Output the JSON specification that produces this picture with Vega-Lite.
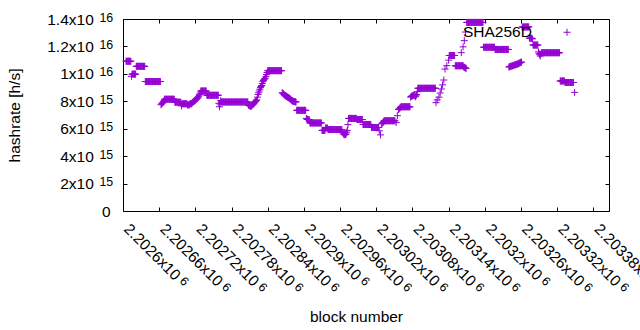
{
"$schema": "https://vega.github.io/schema/vega-lite/v6.json",
"width": 486, "height": 192,
"autosize": "none",
"padding": {"left": 123, "top": 19, "right": 31, "bottom": 119},
"background": "white",
"config": {"view": {"stroke": null}, "font": "Liberation Sans",
  "axis": {"labelFont": "Liberation Sans", "titleFont": "Liberation Sans", "labelColor": "black", "titleColor": "black", "tickColor": "black", "domainColor": "black", "grid": false, "labelOverlap": false, "labelFlush": false, "labelBound": false, "titleFontWeight": "normal", "zindex": 1}},
"data": {"values": [
{"b":2202605,"h":10.92e15},{"b":2202606,"h":10.92e15},{"b":2202607,"h":10.92e15},{"b":2202608,"h":10.92e15},{"b":2202609,"h":10.92e15},{"b":2202610,"h":10.92e15},{"b":2202611,"h":10.92e15},{"b":2202612,"h":10.92e15},{"b":2202613,"h":10.92e15},
{"b":2202614,"h":9.82e15},{"b":2202615,"h":9.98e15},{"b":2202616,"h":9.98e15},{"b":2202617,"h":9.98e15},{"b":2202618,"h":9.98e15},{"b":2202619,"h":9.98e15},{"b":2202620,"h":9.98e15},{"b":2202621,"h":9.98e15},
{"b":2202622,"h":10.55e15},{"b":2202623,"h":10.55e15},{"b":2202624,"h":10.55e15},{"b":2202625,"h":10.55e15},{"b":2202626,"h":10.55e15},{"b":2202627,"h":10.55e15},{"b":2202628,"h":10.55e15},{"b":2202629,"h":10.55e15},{"b":2202630,"h":10.55e15},{"b":2202631,"h":10.55e15},{"b":2202632,"h":10.55e15},{"b":2202633,"h":10.55e15},{"b":2202634,"h":10.55e15},{"b":2202635,"h":10.55e15},{"b":2202636,"h":10.55e15},
{"b":2202637,"h":9.44e15},{"b":2202638,"h":9.44e15},{"b":2202639,"h":9.44e15},{"b":2202640,"h":9.44e15},{"b":2202641,"h":9.44e15},{"b":2202642,"h":9.44e15},{"b":2202643,"h":9.44e15},{"b":2202644,"h":9.44e15},{"b":2202645,"h":9.44e15},{"b":2202646,"h":9.44e15},{"b":2202647,"h":9.44e15},{"b":2202648,"h":9.44e15},{"b":2202649,"h":9.44e15},{"b":2202650,"h":9.44e15},{"b":2202651,"h":9.44e15},{"b":2202652,"h":9.44e15},{"b":2202653,"h":9.44e15},{"b":2202654,"h":9.44e15},{"b":2202655,"h":9.44e15},{"b":2202656,"h":9.44e15},{"b":2202657,"h":9.44e15},{"b":2202658,"h":9.44e15},{"b":2202659,"h":9.44e15},{"b":2202660,"h":9.44e15},{"b":2202661,"h":9.44e15},{"b":2202662,"h":9.44e15},
{"b":2202663,"h":7.75e15},{"b":2202664,"h":7.8e15},{"b":2202665,"h":7.85e15},{"b":2202666,"h":7.9e15},{"b":2202667,"h":7.95e15},{"b":2202668,"h":8.05e15},
{"b":2202669,"h":8.15e15},{"b":2202670,"h":8.15e15},{"b":2202671,"h":8.15e15},{"b":2202672,"h":8.15e15},{"b":2202673,"h":8.15e15},{"b":2202674,"h":8.15e15},{"b":2202675,"h":8.15e15},{"b":2202676,"h":8.15e15},{"b":2202677,"h":8.15e15},{"b":2202678,"h":8.15e15},{"b":2202679,"h":8.15e15},{"b":2202680,"h":8.15e15},{"b":2202681,"h":8.15e15},{"b":2202682,"h":8.15e15},{"b":2202683,"h":8.15e15},{"b":2202684,"h":8.15e15},{"b":2202685,"h":8.15e15},
{"b":2202686,"h":7.93e15},{"b":2202687,"h":7.93e15},{"b":2202688,"h":7.93e15},{"b":2202689,"h":7.93e15},{"b":2202690,"h":7.93e15},{"b":2202691,"h":7.93e15},{"b":2202692,"h":7.93e15},{"b":2202693,"h":7.93e15},{"b":2202694,"h":7.93e15},{"b":2202695,"h":7.93e15},{"b":2202696,"h":7.93e15},
{"b":2202697,"h":7.66e15},{"b":2202698,"h":7.82e15},{"b":2202699,"h":7.82e15},{"b":2202700,"h":7.82e15},{"b":2202701,"h":7.82e15},{"b":2202702,"h":7.82e15},{"b":2202703,"h":7.82e15},{"b":2202704,"h":7.82e15},{"b":2202705,"h":7.82e15},{"b":2202706,"h":7.82e15},{"b":2202707,"h":7.74e15},{"b":2202708,"h":7.74e15},{"b":2202709,"h":7.74e15},{"b":2202710,"h":7.74e15},{"b":2202711,"h":7.82e15},{"b":2202712,"h":7.82e15},{"b":2202713,"h":7.82e15},{"b":2202714,"h":7.82e15},
{"b":2202715,"h":7.9e15},{"b":2202716,"h":7.94e15},{"b":2202717,"h":7.98e15},{"b":2202718,"h":8.02e15},{"b":2202719,"h":8.05e15},{"b":2202720,"h":8.08e15},{"b":2202721,"h":8.12e15},{"b":2202722,"h":8.16e15},{"b":2202723,"h":8.2e15},{"b":2202724,"h":8.26e15},{"b":2202725,"h":8.33e15},{"b":2202726,"h":8.4e15},{"b":2202727,"h":8.5e15},{"b":2202728,"h":8.6e15},
{"b":2202729,"h":8.75e15},{"b":2202730,"h":8.75e15},{"b":2202731,"h":8.75e15},{"b":2202732,"h":8.75e15},{"b":2202733,"h":8.75e15},{"b":2202734,"h":8.75e15},{"b":2202735,"h":8.75e15},{"b":2202736,"h":8.75e15},{"b":2202737,"h":8.75e15},{"b":2202738,"h":8.75e15},
{"b":2202739,"h":8.44e15},{"b":2202740,"h":8.44e15},{"b":2202741,"h":8.44e15},{"b":2202742,"h":8.44e15},{"b":2202743,"h":8.44e15},{"b":2202744,"h":8.44e15},{"b":2202745,"h":8.44e15},{"b":2202746,"h":8.44e15},{"b":2202747,"h":8.44e15},{"b":2202748,"h":8.44e15},{"b":2202749,"h":8.44e15},{"b":2202750,"h":8.44e15},{"b":2202751,"h":8.44e15},{"b":2202752,"h":8.44e15},{"b":2202753,"h":8.44e15},{"b":2202754,"h":8.44e15},{"b":2202755,"h":8.44e15},{"b":2202756,"h":8.44e15},{"b":2202757,"h":8.44e15},{"b":2202758,"h":8.44e15},
{"b":2202759,"h":7.85e15},{"b":2202760,"h":7.6e15},{"b":2202761,"h":7.8e15},{"b":2202762,"h":8.05e15},
{"b":2202763,"h":7.95e15},{"b":2202764,"h":7.95e15},{"b":2202765,"h":7.95e15},{"b":2202766,"h":7.95e15},{"b":2202767,"h":7.95e15},{"b":2202768,"h":7.95e15},{"b":2202769,"h":7.95e15},{"b":2202770,"h":7.95e15},{"b":2202771,"h":7.95e15},{"b":2202772,"h":7.95e15},{"b":2202773,"h":7.95e15},{"b":2202774,"h":7.95e15},{"b":2202775,"h":7.95e15},{"b":2202776,"h":7.95e15},{"b":2202777,"h":7.95e15},{"b":2202778,"h":7.95e15},{"b":2202779,"h":7.95e15},{"b":2202780,"h":7.95e15},{"b":2202781,"h":7.95e15},{"b":2202782,"h":7.95e15},{"b":2202783,"h":7.95e15},{"b":2202784,"h":7.95e15},{"b":2202785,"h":7.95e15},{"b":2202786,"h":7.95e15},{"b":2202787,"h":7.95e15},{"b":2202788,"h":7.95e15},{"b":2202789,"h":7.95e15},{"b":2202790,"h":7.95e15},{"b":2202791,"h":7.95e15},{"b":2202792,"h":7.95e15},{"b":2202793,"h":7.95e15},{"b":2202794,"h":7.95e15},{"b":2202795,"h":7.95e15},{"b":2202796,"h":7.95e15},{"b":2202797,"h":7.95e15},{"b":2202798,"h":7.95e15},{"b":2202799,"h":7.95e15},{"b":2202800,"h":7.95e15},{"b":2202801,"h":7.95e15},{"b":2202802,"h":7.95e15},{"b":2202803,"h":7.95e15},{"b":2202804,"h":7.95e15},{"b":2202805,"h":7.95e15},{"b":2202806,"h":7.95e15},{"b":2202807,"h":7.95e15},
{"b":2202808,"h":7.72e15},{"b":2202809,"h":7.7e15},{"b":2202810,"h":7.68e15},{"b":2202811,"h":7.65e15},{"b":2202812,"h":7.62e15},{"b":2202813,"h":7.66e15},{"b":2202814,"h":7.72e15},{"b":2202815,"h":7.75e15},{"b":2202816,"h":7.78e15},{"b":2202817,"h":7.85e15},
{"b":2202818,"h":7.92e15},{"b":2202819,"h":7.96e15},{"b":2202820,"h":8.0e15},{"b":2202821,"h":8.05e15},{"b":2202822,"h":8.1e15},{"b":2202823,"h":8.3e15},
{"b":2202824,"h":8.5e15},{"b":2202825,"h":8.62e15},{"b":2202826,"h":8.75e15},{"b":2202827,"h":8.88e15},{"b":2202828,"h":9.0e15},{"b":2202829,"h":9.08e15},{"b":2202830,"h":9.15e15},{"b":2202831,"h":9.3e15},{"b":2202832,"h":9.45e15},{"b":2202833,"h":9.52e15},{"b":2202834,"h":9.6e15},{"b":2202835,"h":9.64e15},{"b":2202836,"h":9.68e15},{"b":2202837,"h":9.8e15},{"b":2202838,"h":9.95e15},{"b":2202839,"h":10.1e15},
{"b":2202840,"h":10.23e15},{"b":2202841,"h":10.23e15},{"b":2202842,"h":10.23e15},{"b":2202843,"h":10.23e15},{"b":2202844,"h":10.23e15},{"b":2202845,"h":10.23e15},{"b":2202846,"h":10.23e15},{"b":2202847,"h":10.23e15},{"b":2202848,"h":10.23e15},{"b":2202849,"h":10.23e15},{"b":2202850,"h":10.23e15},{"b":2202851,"h":10.23e15},{"b":2202852,"h":10.23e15},{"b":2202853,"h":10.23e15},{"b":2202854,"h":10.23e15},{"b":2202855,"h":10.23e15},{"b":2202856,"h":10.23e15},{"b":2202857,"h":10.23e15},{"b":2202858,"h":10.23e15},{"b":2202859,"h":10.23e15},{"b":2202860,"h":10.23e15},{"b":2202861,"h":10.23e15},{"b":2202862,"h":10.23e15},{"b":2202863,"h":10.23e15},
{"b":2202864,"h":8.62e15},{"b":2202865,"h":8.6e15},{"b":2202866,"h":8.55e15},{"b":2202867,"h":8.5e15},{"b":2202868,"h":8.45e15},{"b":2202869,"h":8.42e15},{"b":2202870,"h":8.38e15},{"b":2202871,"h":8.35e15},{"b":2202872,"h":8.33e15},{"b":2202873,"h":8.3e15},{"b":2202874,"h":8.28e15},{"b":2202875,"h":8.25e15},{"b":2202876,"h":8.22e15},{"b":2202877,"h":8.18e15},{"b":2202878,"h":8.15e15},{"b":2202879,"h":8.1e15},{"b":2202880,"h":8.05e15},{"b":2202881,"h":8.02e15},{"b":2202882,"h":8.0e15},{"b":2202883,"h":7.99e15},{"b":2202884,"h":7.98e15},{"b":2202885,"h":7.97e15},{"b":2202886,"h":7.96e15},{"b":2202887,"h":7.95e15},
{"b":2202888,"h":7.34e15},{"b":2202889,"h":7.34e15},{"b":2202890,"h":7.34e15},{"b":2202891,"h":7.34e15},{"b":2202892,"h":7.34e15},{"b":2202893,"h":7.34e15},{"b":2202894,"h":7.34e15},{"b":2202895,"h":7.34e15},{"b":2202896,"h":7.34e15},{"b":2202897,"h":7.34e15},{"b":2202898,"h":7.34e15},{"b":2202899,"h":7.34e15},{"b":2202900,"h":7.34e15},{"b":2202901,"h":7.34e15},{"b":2202902,"h":7.34e15},{"b":2202903,"h":7.34e15},
{"b":2202904,"h":6.75e15},{"b":2202905,"h":6.7e15},{"b":2202906,"h":6.68e15},{"b":2202907,"h":6.67e15},{"b":2202908,"h":6.66e15},{"b":2202909,"h":6.66e15},
{"b":2202910,"h":6.42e15},{"b":2202911,"h":6.42e15},{"b":2202912,"h":6.42e15},{"b":2202913,"h":6.42e15},{"b":2202914,"h":6.42e15},{"b":2202915,"h":6.42e15},{"b":2202916,"h":6.42e15},{"b":2202917,"h":6.42e15},{"b":2202918,"h":6.42e15},{"b":2202919,"h":6.42e15},{"b":2202920,"h":6.42e15},{"b":2202921,"h":6.42e15},{"b":2202922,"h":6.42e15},{"b":2202923,"h":6.42e15},{"b":2202924,"h":6.42e15},{"b":2202925,"h":6.42e15},{"b":2202926,"h":6.42e15},{"b":2202927,"h":6.42e15},{"b":2202928,"h":6.42e15},{"b":2202929,"h":6.42e15},
{"b":2202930,"h":5.88e15},{"b":2202931,"h":5.88e15},{"b":2202932,"h":5.88e15},{"b":2202933,"h":5.88e15},{"b":2202934,"h":5.88e15},{"b":2202935,"h":5.88e15},{"b":2202936,"h":6.05e15},{"b":2202937,"h":6.05e15},{"b":2202938,"h":6.05e15},{"b":2202939,"h":6.05e15},
{"b":2202940,"h":5.94e15},{"b":2202941,"h":5.94e15},{"b":2202942,"h":5.94e15},{"b":2202943,"h":5.94e15},{"b":2202944,"h":5.94e15},{"b":2202945,"h":5.94e15},{"b":2202946,"h":5.94e15},{"b":2202947,"h":5.94e15},{"b":2202948,"h":5.94e15},{"b":2202949,"h":5.94e15},{"b":2202950,"h":5.94e15},{"b":2202951,"h":5.94e15},{"b":2202952,"h":5.94e15},{"b":2202953,"h":5.94e15},{"b":2202954,"h":5.94e15},{"b":2202955,"h":5.94e15},{"b":2202956,"h":5.94e15},{"b":2202957,"h":5.94e15},{"b":2202958,"h":5.94e15},{"b":2202959,"h":5.94e15},{"b":2202960,"h":5.94e15},{"b":2202961,"h":5.94e15},{"b":2202962,"h":5.94e15},{"b":2202963,"h":5.94e15},
{"b":2202964,"h":5.75e15},{"b":2202965,"h":5.68e15},{"b":2202966,"h":5.6e15},{"b":2202967,"h":5.58e15},{"b":2202968,"h":5.55e15},{"b":2202969,"h":5.58e15},{"b":2202970,"h":5.62e15},{"b":2202971,"h":5.75e15},{"b":2202972,"h":5.88e15},{"b":2202973,"h":6.3e15},
{"b":2202974,"h":6.75e15},{"b":2202975,"h":6.75e15},{"b":2202976,"h":6.75e15},{"b":2202977,"h":6.75e15},{"b":2202978,"h":6.75e15},{"b":2202979,"h":6.75e15},{"b":2202980,"h":6.75e15},{"b":2202981,"h":6.75e15},{"b":2202982,"h":6.75e15},{"b":2202983,"h":6.75e15},{"b":2202984,"h":6.75e15},{"b":2202985,"h":6.75e15},{"b":2202986,"h":6.75e15},{"b":2202987,"h":6.75e15},
{"b":2202988,"h":6.67e15},{"b":2202989,"h":6.67e15},{"b":2202990,"h":6.67e15},{"b":2202991,"h":6.67e15},{"b":2202992,"h":6.67e15},{"b":2202993,"h":6.67e15},{"b":2202994,"h":6.67e15},{"b":2202995,"h":6.67e15},{"b":2202996,"h":6.67e15},{"b":2202997,"h":6.67e15},
{"b":2202998,"h":6.31e15},{"b":2202999,"h":6.31e15},{"b":2203000,"h":6.31e15},{"b":2203001,"h":6.31e15},{"b":2203002,"h":6.31e15},{"b":2203003,"h":6.31e15},{"b":2203004,"h":6.31e15},{"b":2203005,"h":6.31e15},{"b":2203006,"h":6.31e15},{"b":2203007,"h":6.31e15},{"b":2203008,"h":6.31e15},{"b":2203009,"h":6.31e15},{"b":2203010,"h":6.31e15},{"b":2203011,"h":6.31e15},
{"b":2203012,"h":6.09e15},{"b":2203013,"h":6.09e15},{"b":2203014,"h":6.09e15},{"b":2203015,"h":6.09e15},{"b":2203016,"h":6.09e15},{"b":2203017,"h":6.09e15},{"b":2203018,"h":6.09e15},{"b":2203019,"h":6.09e15},{"b":2203020,"h":6.09e15},{"b":2203021,"h":6.09e15},{"b":2203022,"h":6.09e15},{"b":2203023,"h":6.09e15},{"b":2203024,"h":6.09e15},
{"b":2203025,"h":5.85e15},{"b":2203027,"h":5.55e15},
{"b":2203029,"h":6.35e15},{"b":2203030,"h":6.4e15},{"b":2203031,"h":6.45e15},{"b":2203032,"h":6.5e15},
{"b":2203033,"h":6.58e15},{"b":2203034,"h":6.58e15},{"b":2203035,"h":6.58e15},{"b":2203036,"h":6.58e15},{"b":2203037,"h":6.58e15},{"b":2203038,"h":6.58e15},{"b":2203039,"h":6.58e15},{"b":2203040,"h":6.58e15},{"b":2203041,"h":6.58e15},{"b":2203042,"h":6.58e15},{"b":2203043,"h":6.58e15},{"b":2203044,"h":6.58e15},{"b":2203045,"h":6.58e15},{"b":2203046,"h":6.58e15},{"b":2203047,"h":6.58e15},{"b":2203048,"h":6.58e15},{"b":2203049,"h":6.58e15},{"b":2203050,"h":6.58e15},{"b":2203051,"h":6.58e15},
{"b":2203053,"h":6.45e15},{"b":2203055,"h":6.95e15},
{"b":2203057,"h":7.4e15},{"b":2203058,"h":7.45e15},{"b":2203059,"h":7.5e15},{"b":2203060,"h":7.55e15},
{"b":2203061,"h":7.6e15},{"b":2203062,"h":7.6e15},{"b":2203063,"h":7.6e15},{"b":2203064,"h":7.6e15},{"b":2203065,"h":7.6e15},{"b":2203066,"h":7.6e15},{"b":2203067,"h":7.6e15},{"b":2203068,"h":7.6e15},{"b":2203069,"h":7.6e15},{"b":2203070,"h":7.6e15},{"b":2203071,"h":7.6e15},{"b":2203072,"h":7.6e15},{"b":2203073,"h":7.6e15},{"b":2203074,"h":7.6e15},{"b":2203075,"h":7.6e15},{"b":2203076,"h":7.6e15},
{"b":2203077,"h":8.3e15},{"b":2203078,"h":8.35e15},{"b":2203079,"h":8.38e15},{"b":2203080,"h":8.4e15},{"b":2203081,"h":8.42e15},{"b":2203082,"h":8.44e15},{"b":2203083,"h":8.45e15},{"b":2203084,"h":8.4e15},{"b":2203085,"h":8.33e15},{"b":2203086,"h":8.4e15},{"b":2203087,"h":8.5e15},{"b":2203088,"h":8.7e15},
{"b":2203089,"h":8.95e15},{"b":2203090,"h":8.95e15},{"b":2203091,"h":8.95e15},{"b":2203092,"h":8.95e15},{"b":2203093,"h":8.95e15},{"b":2203094,"h":8.95e15},{"b":2203095,"h":8.95e15},{"b":2203096,"h":8.95e15},{"b":2203097,"h":8.95e15},{"b":2203098,"h":8.95e15},{"b":2203099,"h":8.95e15},{"b":2203100,"h":8.95e15},{"b":2203101,"h":8.95e15},{"b":2203102,"h":8.95e15},{"b":2203103,"h":8.95e15},{"b":2203104,"h":8.95e15},{"b":2203105,"h":8.95e15},{"b":2203106,"h":8.95e15},{"b":2203107,"h":8.95e15},{"b":2203108,"h":8.95e15},{"b":2203109,"h":8.95e15},{"b":2203110,"h":8.95e15},{"b":2203111,"h":8.95e15},{"b":2203112,"h":8.95e15},{"b":2203113,"h":8.95e15},{"b":2203114,"h":8.95e15},{"b":2203115,"h":8.95e15},{"b":2203116,"h":8.95e15},{"b":2203117,"h":8.95e15},{"b":2203118,"h":8.95e15},
{"b":2203119,"h":7.9e15},{"b":2203121,"h":8.1e15},{"b":2203124,"h":8.3e15},{"b":2203126,"h":8.6e15},{"b":2203128,"h":8.9e15},{"b":2203130,"h":9.2e15},{"b":2203132,"h":9.55e15},
{"b":2203134,"h":10.35e15},{"b":2203137,"h":10.6e15},{"b":2203140,"h":11.0e15},
{"b":2203141,"h":11.34e15},{"b":2203142,"h":11.34e15},{"b":2203143,"h":11.34e15},{"b":2203144,"h":11.34e15},{"b":2203145,"h":11.34e15},{"b":2203146,"h":11.34e15},{"b":2203147,"h":11.34e15},{"b":2203148,"h":11.34e15},{"b":2203149,"h":11.34e15},{"b":2203150,"h":11.34e15},
{"b":2203151,"h":10.59e15},{"b":2203152,"h":10.59e15},{"b":2203153,"h":10.59e15},{"b":2203154,"h":10.59e15},{"b":2203155,"h":10.59e15},{"b":2203156,"h":10.59e15},{"b":2203157,"h":10.59e15},{"b":2203158,"h":10.59e15},{"b":2203159,"h":10.59e15},{"b":2203160,"h":10.59e15},{"b":2203161,"h":10.59e15},{"b":2203162,"h":10.59e15},{"b":2203163,"h":10.59e15},{"b":2203164,"h":10.59e15},{"b":2203165,"h":10.5e15},{"b":2203166,"h":10.48e15},{"b":2203167,"h":10.45e15},{"b":2203168,"h":10.42e15},{"b":2203169,"h":10.4e15},
{"b":2203161,"h":11.55e15},{"b":2203164,"h":11.97e15},{"b":2203166,"h":12.42e15},{"b":2203168,"h":13.05e15},
{"b":2203170,"h":13.75e15},{"b":2203171,"h":13.75e15},{"b":2203172,"h":13.75e15},{"b":2203173,"h":13.75e15},{"b":2203174,"h":13.75e15},{"b":2203175,"h":13.75e15},{"b":2203176,"h":13.75e15},{"b":2203177,"h":13.75e15},{"b":2203178,"h":13.75e15},{"b":2203179,"h":13.75e15},{"b":2203180,"h":13.75e15},{"b":2203181,"h":13.75e15},{"b":2203182,"h":13.75e15},{"b":2203183,"h":13.75e15},{"b":2203184,"h":13.75e15},{"b":2203185,"h":13.75e15},{"b":2203186,"h":13.75e15},{"b":2203187,"h":13.75e15},{"b":2203188,"h":13.75e15},{"b":2203189,"h":13.75e15},{"b":2203190,"h":13.75e15},{"b":2203191,"h":13.75e15},{"b":2203192,"h":13.75e15},{"b":2203193,"h":13.75e15},{"b":2203194,"h":13.75e15},{"b":2203195,"h":13.75e15},{"b":2203196,"h":13.75e15},{"b":2203197,"h":13.75e15},
{"b":2203198,"h":11.94e15},{"b":2203199,"h":11.94e15},{"b":2203200,"h":11.94e15},{"b":2203201,"h":11.94e15},{"b":2203202,"h":11.94e15},{"b":2203203,"h":11.94e15},{"b":2203204,"h":11.94e15},{"b":2203205,"h":11.94e15},{"b":2203206,"h":11.94e15},{"b":2203207,"h":11.94e15},{"b":2203208,"h":11.94e15},{"b":2203209,"h":11.94e15},{"b":2203210,"h":11.94e15},{"b":2203211,"h":11.94e15},{"b":2203212,"h":11.94e15},{"b":2203213,"h":11.94e15},{"b":2203214,"h":11.94e15},{"b":2203215,"h":11.94e15},{"b":2203216,"h":11.94e15},
{"b":2203217,"h":11.78e15},{"b":2203218,"h":11.78e15},{"b":2203219,"h":11.78e15},{"b":2203220,"h":11.78e15},{"b":2203221,"h":11.78e15},{"b":2203222,"h":11.78e15},{"b":2203223,"h":11.78e15},{"b":2203224,"h":11.78e15},{"b":2203225,"h":11.78e15},{"b":2203226,"h":11.78e15},{"b":2203227,"h":11.78e15},{"b":2203228,"h":11.78e15},{"b":2203229,"h":11.78e15},{"b":2203230,"h":11.78e15},{"b":2203231,"h":11.78e15},{"b":2203232,"h":11.78e15},{"b":2203233,"h":11.78e15},{"b":2203234,"h":11.78e15},{"b":2203235,"h":11.78e15},{"b":2203236,"h":11.78e15},{"b":2203237,"h":11.78e15},{"b":2203238,"h":11.78e15},{"b":2203239,"h":11.78e15},
{"b":2203240,"h":10.5e15},{"b":2203241,"h":10.52e15},{"b":2203242,"h":10.53e15},{"b":2203243,"h":10.55e15},{"b":2203244,"h":10.56e15},{"b":2203245,"h":10.58e15},{"b":2203246,"h":10.59e15},{"b":2203247,"h":10.61e15},{"b":2203248,"h":10.62e15},{"b":2203249,"h":10.64e15},{"b":2203250,"h":10.65e15},{"b":2203251,"h":10.67e15},{"b":2203252,"h":10.68e15},{"b":2203253,"h":10.7e15},{"b":2203254,"h":10.71e15},{"b":2203255,"h":10.73e15},{"b":2203256,"h":10.75e15},{"b":2203257,"h":10.78e15},{"b":2203258,"h":10.8e15},{"b":2203259,"h":10.82e15},{"b":2203260,"h":10.85e15},{"b":2203261,"h":10.86e15},
{"b":2203262,"h":13.42e15},{"b":2203263,"h":13.42e15},{"b":2203264,"h":13.42e15},{"b":2203265,"h":13.42e15},{"b":2203266,"h":13.42e15},{"b":2203267,"h":13.42e15},{"b":2203268,"h":13.42e15},{"b":2203269,"h":13.42e15},{"b":2203270,"h":13.42e15},{"b":2203271,"h":13.42e15},{"b":2203272,"h":13.42e15},{"b":2203273,"h":13.42e15},
{"b":2203274,"h":12.6e15},{"b":2203275,"h":12.6e15},{"b":2203276,"h":12.6e15},{"b":2203277,"h":12.6e15},{"b":2203278,"h":12.58e15},{"b":2203279,"h":12.55e15},
{"b":2203280,"h":12.1e15},{"b":2203281,"h":12.1e15},{"b":2203282,"h":12.1e15},{"b":2203283,"h":12.1e15},{"b":2203284,"h":12.1e15},{"b":2203285,"h":12.1e15},{"b":2203286,"h":12.1e15},{"b":2203287,"h":12.1e15},{"b":2203288,"h":12.1e15},
{"b":2203289,"h":11.6e15},{"b":2203290,"h":11.5e15},{"b":2203291,"h":11.4e15},{"b":2203292,"h":11.3e15},{"b":2203293,"h":11.45e15},
{"b":2203294,"h":11.54e15},{"b":2203295,"h":11.54e15},{"b":2203296,"h":11.54e15},{"b":2203297,"h":11.54e15},{"b":2203298,"h":11.54e15},{"b":2203299,"h":11.54e15},{"b":2203300,"h":11.54e15},{"b":2203301,"h":11.54e15},{"b":2203302,"h":11.54e15},{"b":2203303,"h":11.54e15},{"b":2203304,"h":11.54e15},{"b":2203305,"h":11.54e15},{"b":2203306,"h":11.54e15},{"b":2203307,"h":11.54e15},{"b":2203308,"h":11.54e15},{"b":2203309,"h":11.54e15},{"b":2203310,"h":11.54e15},{"b":2203311,"h":11.54e15},{"b":2203312,"h":11.54e15},{"b":2203313,"h":11.54e15},{"b":2203314,"h":11.54e15},{"b":2203315,"h":11.54e15},{"b":2203316,"h":11.54e15},{"b":2203317,"h":11.54e15},{"b":2203318,"h":11.54e15},{"b":2203319,"h":11.54e15},{"b":2203320,"h":11.54e15},{"b":2203321,"h":11.54e15},{"b":2203322,"h":11.54e15},{"b":2203323,"h":11.54e15},{"b":2203324,"h":11.54e15},
{"b":2203325,"h":9.48e15},{"b":2203326,"h":9.48e15},{"b":2203327,"h":9.48e15},{"b":2203328,"h":9.48e15},{"b":2203329,"h":9.48e15},{"b":2203330,"h":9.48e15},{"b":2203331,"h":9.48e15},{"b":2203332,"h":9.48e15},
{"b":2203333,"h":9.37e15},{"b":2203334,"h":9.37e15},{"b":2203335,"h":9.37e15},{"b":2203336,"h":9.37e15},{"b":2203337,"h":9.37e15},{"b":2203338,"h":9.37e15},{"b":2203339,"h":9.37e15},{"b":2203340,"h":9.37e15},{"b":2203341,"h":9.37e15},{"b":2203342,"h":9.37e15},{"b":2203343,"h":9.37e15},{"b":2203344,"h":9.37e15},{"b":2203345,"h":9.37e15},{"b":2203346,"h":9.37e15},{"b":2203347,"h":9.37e15},
{"b":2203349,"h":8.65e15}
]},
"layer": [
{
"mark": {"type": "point", "shape": "M-1,0H1M0,-1V1", "filled": false, "size": 49, "strokeWidth": 1, "opacity": 1},
"encoding": {
 "x": {"field": "b", "type": "quantitative", "scale": {"domain": [2202600, 2203406], "nice": false, "zero": false},
   "axis": {"orient": "bottom", "values": [2202600,2202660,2202720,2202780,2202840,2202900,2202960,2203020,2203080,2203140,2203200,2203260,2203320,2203380],
     "labelExpr": "format(datum.value/1e6,'.6~g')+'x10'", "labelAngle": 45, "labelAlign": "left", "labelBaseline": "top", "labelFontSize": 15.5, "labelPadding": 14.1, "labelOffset": 8.1,
     "tickSize": -4, "domain": true, "title": "block number", "titleFontSize": 15.5, "titleX": 233, "titleY": 110, "titleBaseline": "alphabetic", "titleAlign": "center"}},
 "y": {"field": "h", "type": "quantitative", "scale": {"domain": [0, 1.4e16], "nice": false, "zero": false},
   "axis": {"orient": "left", "values": [0,2e15,4e15,6e15,8e15,1e16,1.2e16,1.4e16],
     "labelExpr": "datum.value==0?'':(datum.value<1e16?format(datum.value/1e15,'.2~g'):format(datum.value/1e16,'.2~g'))+'x10'",
     "labelAlign": "right", "labelBaseline": "middle", "labelFontSize": 15.5, "labelPadding": 33.7, "tickSize": -4, "domain": true,
     "title": "hashrate [h/s]", "titleFontSize": 15.5, "titleAngle": -90, "titleX": -103.5, "titleY": 96, "titleAlign": "center", "titleBaseline": "alphabetic"}},
 "color": {"datum": "SHA256D", "scale": {"range": ["#9400d3"]},
   "legend": {"orient": "none", "legendX": 324.5, "legendY": 5.5, "title": null, "padding": 0, "labelFontSize": 15.5, "labelFont": "Liberation Sans", "labelColor": "black", "labelAlign": "left", "labelOffset": -111.75, "symbolOffset": 111.75, "symbolType": "M-1,0H1M0,-1V1", "symbolSize": 49, "symbolStrokeWidth": 1, "symbolStrokeColor": "#9400d3", "symbolFillColor": "transparent"}}
}
},
{
"data": {"values": [{"b": 2202600, "h": 0}]},
"mark": {"type": "point", "opacity": 0},
"encoding": {
 "x": {"field": "b", "type": "quantitative", "scale": {"domain": [2202600, 2203406], "nice": false, "zero": false},
   "axis": {"orient": "bottom", "values": [2202600,2202660,2202720,2202780,2202840,2202900,2202960,2203020,2203080,2203140,2203200,2203260,2203320,2203380],
     "labelExpr": "'6'", "labelAngle": 45, "labelAlign": "left", "labelBaseline": "top", "labelFontSize": 12.4, "labelPadding": 10.1, "labelOffset": 8.1,
     "ticks": false, "domain": false, "title": null,
     "encoding": {"labels": {"dx": {"value": {"expr": "(datum.value==2202600||datum.value==2202900||datum.value==2203200)?76.1:84.7"}}, "dy": {"value": -1}}}}},
 "y": {"field": "h", "type": "quantitative", "scale": {"domain": [0, 1.4e16], "nice": false, "zero": false},
   "axis": {"orient": "left", "values": [0,2e15,4e15,6e15,8e15,1e16,1.2e16,1.4e16],
     "labelExpr": "datum.value==0?'0':(datum.value<1e16?'15':'16')",
     "labelAlign": "right", "labelBaseline": "middle", "labelFontSize": 12.4, "labelPadding": 10.3, "ticks": false, "domain": false, "title": null,
     "encoding": {"labels": {"fontSize": {"value": {"expr": "datum.value==0?15.5:12.4"}}, "dy": {"value": {"expr": "datum.value==0?0:-2"}}, "dx": {"value": {"expr": "datum.value==0?-2.7:0"}}}}}}
}
},
{
"data": {"values": [{"b": 2202600, "h": 0}]},
"mark": {"type": "point", "opacity": 0},
"encoding": {
 "x": {"field": "b", "type": "quantitative", "scale": {"domain": [2202600, 2203406], "nice": false, "zero": false},
   "axis": {"orient": "top", "values": [2202600,2202660,2202720,2202780,2202840,2202900,2202960,2203020,2203080,2203140,2203200,2203260,2203320,2203380], "labels": false, "tickSize": -4, "domain": true, "title": null}},
 "y": {"field": "h", "type": "quantitative", "scale": {"domain": [0, 1.4e16], "nice": false, "zero": false},
   "axis": {"orient": "right", "values": [0,2e15,4e15,6e15,8e15,1e16,1.2e16,1.4e16], "labels": false, "tickSize": -4, "domain": true, "title": null}}
}
}
],
"resolve": {"axis": {"x": "independent", "y": "independent"}}
}
